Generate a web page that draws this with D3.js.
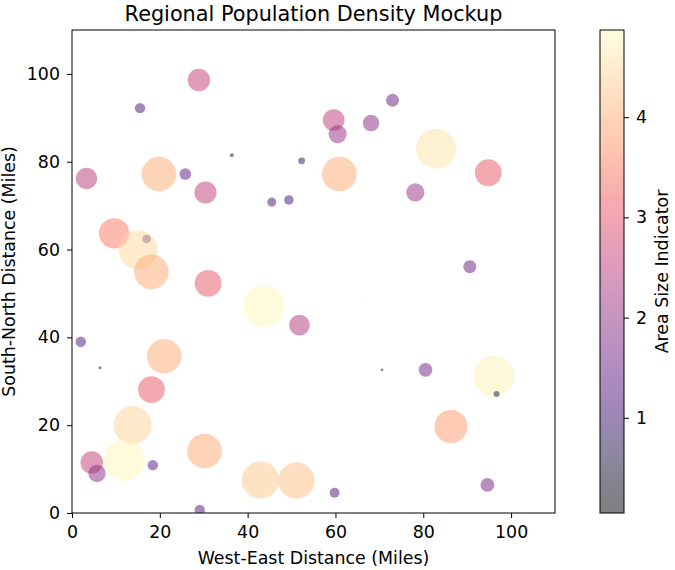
<!DOCTYPE html>
<html>
<head>
<meta charset="utf-8">
<script src="https://cdn.jsdelivr.net/npm/d3@7"></script>
<style>
  body { margin: 0; background: #fff; }
  text { font-family: "DejaVu Sans", sans-serif; }
</style>
</head>
<body>
<div id="body"></div>
<script>
// data
var xMiles = [28.9, 15.5, 37.3, 3.3, 19.8, 25.8, 36.4, 52.3, 30.4, 45.5,
              49.4, 9.6, 17.0, 15.1, 18.1, 31.0, 43.7, 51.8, 2.0, 6.4,
              21.0, 18.1, 13.8, 11.9, 4.5, 5.7, 18.4, 30.2, 42.9, 51.1,
              54.5, 29.1, 59.6, 60.5, 68.1, 73.0, 82.9, 94.8, 60.9, 78.2,
              90.6, 66.0, 70.6, 80.5, 96.1, 96.7, 86.3, 94.6, 59.8];
var yMiles = [98.6, 92.2, 97.1, 76.2, 77.2, 77.2, 81.5, 80.2, 73.0, 70.8,
              71.3, 63.7, 62.4, 59.9, 54.9, 52.3, 47.2, 42.8, 39.0, 33.1,
              35.7, 28.1, 20.0, 12.1, 11.5, 9.0, 10.9, 14.1, 7.5, 7.4,
              2.6, 0.7, 89.5, 86.3, 88.8, 94.0, 83.0, 77.5, 77.2, 73.0,
              56.1, 49.4, 32.6, 32.6, 31.2, 27.1, 19.7, 6.4, 4.6];
var areaSize = [2.6, 1.2, 0.05, 2.45, 4.0, 1.35, 0.45, 0.8, 2.55, 1.05,
                1.1, 3.5, 1.0, 4.5, 4.0, 3.1, 4.8, 2.4, 1.2, 0.35,
                4.0, 3.1, 4.4, 4.8, 2.6, 2.0, 1.2, 4.0, 4.3, 4.2,
                0.1, 1.2, 2.5, 2.1, 1.9, 1.5, 4.6, 3.1, 4.0, 2.1,
                1.5, 0.05, 0.3, 1.6, 4.75, 0.7, 3.8, 1.6, 1.15];
var axisTicks = [0, 20, 40, 60, 80, 100];
var barTicks = [1, 2, 3, 4];

var width = 675, height = 570;
var plotLeft = 72, plotRight = 555, plotTop = 30, plotBottom = 513;
var sizeMin = 0.05, sizeMax = 4.87;
var labelFont = '17.4px';

var svg = d3.select('#body')
  .append('svg')
  .attr('width', width)
  .attr('height', height);

var x = d3.scaleLinear().domain([0, 110]).range([plotLeft, plotRight]);
var y = d3.scaleLinear().domain([0, 110]).range([plotBottom, plotTop]);
var color = function (v) {
  return d3.interpolateMagma((v - sizeMin) / (sizeMax - sizeMin));
};
// radius grows with the value
var r = d3.scaleLinear().domain([0, 4.8]).range([0, 20.8]);

svg.append('clipPath').attr('id', 'plotclip')
  .append('rect')
  .attr('x', plotLeft).attr('y', plotTop)
  .attr('width', plotRight - plotLeft).attr('height', plotBottom - plotTop);

var points = d3.range(xMiles.length).map(function (i) {
  return {x: xMiles[i], y: yMiles[i], v: areaSize[i]};
});

svg.append('g')
  .attr('clip-path', 'url(#plotclip)')
  .selectAll('circle')
  .data(points)
  .enter()
  .append('circle')
  .attr('cx', function (d) { return x(d.x); })
  .attr('cy', function (d) { return y(d.y); })
  .attr('r', function (d) { return r(d.v); })
  .style('fill', function (d) { return color(d.v); })
  .style('fill-opacity', 0.5);

// axes
function styleAxis (a) {
  a.select('.domain').remove();
  a.selectAll('text').style('font-size', labelFont).style('font-family', '"DejaVu Sans", sans-serif').attr('fill', '#000');
  a.selectAll('line').attr('stroke', '#000').attr('stroke-width', 1);
}
var xAxis = svg.append('g')
  .attr('transform', 'translate(0,' + plotBottom + ')')
  .call(d3.axisBottom(x).tickValues(axisTicks).tickSize(5).tickPadding(8));
var yAxis = svg.append('g')
  .attr('transform', 'translate(' + plotLeft + ',0)')
  .call(d3.axisLeft(y).tickValues(axisTicks).tickSize(5).tickPadding(7));
styleAxis(xAxis);
styleAxis(yAxis);

svg.append('rect')
  .attr('x', plotLeft).attr('y', plotTop)
  .attr('width', plotRight - plotLeft).attr('height', plotBottom - plotTop)
  .style('fill', 'none').style('stroke', '#000').style('stroke-width', 1);

svg.append('text')
  .attr('x', (plotLeft + plotRight) / 2).attr('y', 20.5)
  .attr('text-anchor', 'middle')
  .style('font-size', '20.8px')
  .text('Regional Population Density Mockup');

svg.append('text')
  .attr('x', (plotLeft + plotRight) / 2).attr('y', 564)
  .attr('text-anchor', 'middle')
  .style('font-size', labelFont)
  .text('West-East Distance (Miles)');

svg.append('text')
  .attr('transform', 'translate(15,' + (plotTop + plotBottom) / 2 + ') rotate(-90)')
  .attr('text-anchor', 'middle')
  .style('font-size', labelFont)
  .text('South-North Distance (Miles)');

// colorbar
var barLeft = 600, barWidth = 24;
var cb = d3.scaleLinear().domain([sizeMin, sizeMax]).range([plotBottom, plotTop]);

var grad = svg.append('defs').append('linearGradient')
  .attr('id', 'cbgrad')
  .attr('x1', 0).attr('y1', 1).attr('x2', 0).attr('y2', 0);
d3.range(0, 1.0001, 0.05).forEach(function (t) {
  grad.append('stop')
    .attr('offset', t)
    .attr('stop-color', d3.interpolateMagma(t))
    .attr('stop-opacity', 0.5);
});

svg.append('rect')
  .attr('x', barLeft).attr('y', plotTop)
  .attr('width', barWidth).attr('height', plotBottom - plotTop)
  .style('fill', 'url(#cbgrad)')
  .style('stroke', '#000').style('stroke-width', 1);

var cAxis = svg.append('g')
  .attr('transform', 'translate(' + (barLeft + barWidth) + ',0)')
  .call(d3.axisRight(cb).tickValues(barTicks).tickFormat(d3.format('d')).tickSize(5).tickPadding(7));
styleAxis(cAxis);

svg.append('text')
  .attr('transform', 'translate(668,' + (plotTop + plotBottom) / 2 + ') rotate(-90)')
  .attr('text-anchor', 'middle')
  .style('font-size', labelFont)
  .text('Area Size Indicator');
</script>
</body>
</html>
